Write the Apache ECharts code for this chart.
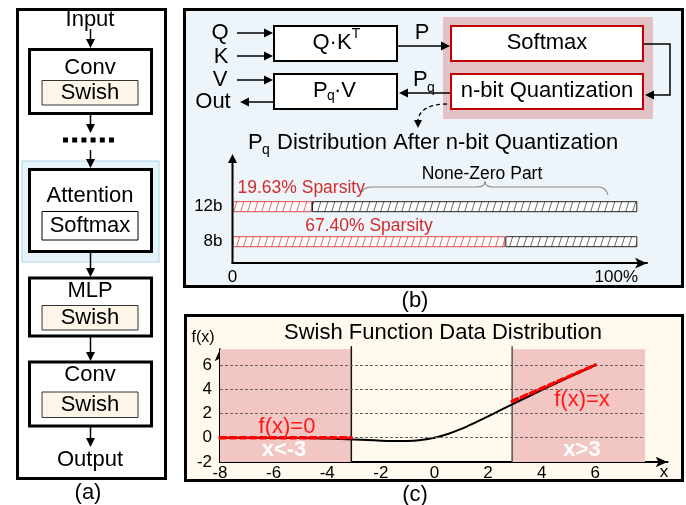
<!DOCTYPE html>
<html><head><meta charset="utf-8">
<script src="https://cdn.jsdelivr.net/npm/echarts@6/dist/echarts.min.js"></script>
<style>html,body{margin:0;padding:0;background:#fff}#c{width:686px;height:505px}</style>
</head><body><div id="c"></div>
<script>
// ---- data (b): Pq distribution after n-bit quantization ----
const barCategories = ['8b', '12b'];
const sparsity = [67.40, 19.63];            // % zero part
const nonZero = [32.60, 80.37];             // % non-zero part
const barTicks = [0, 100];
// ---- data (c): Swish function ----
const swishX = [-8, -7, -6, -5, -4, -3.5, -3, -2.5, -2, -1.5, -1, -0.5, 0, 0.5, 1, 1.5, 2, 2.5, 3, 3.5, 4, 4.5, 5, 5.5, 6];
const swishY = [-0.003, -0.006, -0.015, -0.03, -0.07, -0.1, -0.14, -0.19, -0.24, -0.27, -0.27, -0.19, 0, 0.31, 0.73, 1.23, 1.76, 2.31, 2.86, 3.4, 3.93, 4.45, 4.97, 5.48, 5.99];
const zeroApproxX = [-8, -3.1];
const zeroApproxY = [0, 0];
const linApproxX = [2.9, 6];
const linApproxY = [3.0, 6];
const swishXTicks = [-8, -6, -4, -2, 0, 2, 4, 6];
const swishYTicks = [-2, 0, 2, 4, 6];
const gridLevels = [0, 2, 4, 6];
const regionLeft = [-8, -3.1];
const regionRight = [2.9, 7.86];
const regionBottom = -2;
const regionTop = 7.55;

const F = "'Liberation Sans', Arial, sans-serif";
const els = [];
function rect(x, y, w, h, style, z) { els.push({ type: 'rect', z: z == null ? 5 : z, shape: { x, y, width: w, height: h }, style }); }
function text(x, y, t, size, color, opt) {
  els.push({ type: 'text', z: 20, x, y, style: Object.assign({ text: t, fontSize: size, fontFamily: F, fill: color || '#000', align: 'center', verticalAlign: 'middle' }, opt || {}) });
}
function line(x1, y1, x2, y2, color, w, dash) { els.push({ type: 'line', z: 10, shape: { x1, y1, x2, y2 }, style: { stroke: color, lineWidth: w, lineDash: dash || null } }); }
function head(x, y, dx, dy, color, len, hw) {
  const bx = x - dx * len, by = y - dy * len, px = -dy, py = dx;
  els.push({ type: 'polygon', z: 11, shape: { points: [[x, y], [bx + px * hw, by + py * hw], [bx - px * hw, by - py * hw]] }, style: { fill: color } });
}
function arrow(x1, y1, x2, y2, color, w) {
  const L = Math.hypot(x2 - x1, y2 - y1), dx = (x2 - x1) / L, dy = (y2 - y1) / L;
  line(x1, y1, x2 - dx * 6, y2 - dy * 6, color || '#000', w || 1.5);
  head(x2, y2, dx, dy, color || '#000', 9, 4.5);
}
function quad(x1, y1, cx, cy, x2, y2, color, w, dash) {
  els.push({ type: 'bezierCurve', z: 10, shape: { x1, y1, x2, y2, cpx1: cx, cpy1: cy }, style: { stroke: color, lineWidth: w, fill: null, lineDash: dash || null } });
}

// ===== panel (a) =====
rect(17.5, 9.5, 148, 469, { fill: '#fff', stroke: '#000', lineWidth: 3 }, 0);
rect(22, 161, 137, 101, { fill: '#e8f3f9', stroke: '#a9d6ea', lineWidth: 1 }, 1);
const blk = { fill: '#fff', stroke: '#000', lineWidth: 3 };
const sw = { fill: '#fdf6e8', stroke: '#333', lineWidth: 1 };
rect(29.5, 49.5, 122, 64, blk); rect(42, 80.5, 96, 24.5, sw);
rect(29.5, 169.5, 122, 82, blk); rect(42, 211.5, 96, 28.5, { fill: '#fff', stroke: '#000', lineWidth: 1 });
rect(29.5, 278, 122, 58, blk); rect(42, 305.5, 96, 24.5, sw);
rect(29.5, 362, 122, 64, blk); rect(42, 392, 96, 25.5, sw);
text(90, 20, 'Input', 22); text(90, 68, 'Conv', 22); text(90, 93, 'Swish', 22);
text(90, 195.5, 'Attention', 22); text(90, 225.5, 'Softmax', 22);
text(90, 290.5, 'MLP', 22); text(90, 318, 'Swish', 22);
text(90, 375, 'Conv', 22); text(90, 405, 'Swish', 22);
text(90, 460, 'Output', 22);
line(63, 140, 118, 140, '#000', 5, [5, 4.2]);
arrow(90.5, 29, 90.5, 48); arrow(90.5, 115, 90.5, 133); arrow(90.5, 150, 90.5, 168);
arrow(90.5, 253, 90.5, 277); arrow(90.5, 337, 90.5, 361); arrow(90.5, 427, 90.5, 447);
text(88, 493, '(a)', 22);

// ===== panel (b) =====
rect(184.5, 9.5, 498, 277, { fill: '#edf4fa', stroke: '#000', lineWidth: 3 }, 0);
rect(443, 17, 210, 102, { fill: '#e3c2c6' }, 1);
rect(274, 26, 123, 35, { fill: '#fff', stroke: '#000', lineWidth: 2 });
rect(274, 74, 123, 35, { fill: '#fff', stroke: '#000', lineWidth: 2 });
rect(451, 26, 192, 35, { fill: '#fff', stroke: '#c00000', lineWidth: 2 });
rect(451, 74, 192, 35, { fill: '#fff', stroke: '#c00000', lineWidth: 2 });
text(220, 33, 'Q', 22); text(221, 57, 'K', 22); text(220, 80, 'V', 22); text(213, 102, 'Out', 22);
text(332, 43, 'Q·K', 22); text(356, 34, 'T', 14);
text(313, 91, 'P', 22, '#000', { align: 'left' }); text(327, 96, 'q', 14, '#000', { align: 'left' }); text(334, 91, '·V', 22, '#000', { align: 'left' });
text(422, 33, 'P', 22);
text(413, 80, 'P', 22, '#000', { align: 'left' }); text(427, 88, 'q', 14, '#000', { align: 'left' });
text(547, 43, 'Softmax', 22); text(547, 91, 'n-bit Quantization', 22);
arrow(237, 33, 273, 33); arrow(237, 56, 273, 56); arrow(237, 80, 273, 80); arrow(273, 102, 240, 102);
arrow(398, 46, 450, 46); arrow(450, 93, 399, 93);
els.push({ type: 'polyline', z: 10, shape: { points: [[644, 44], [670, 44], [670, 95], [652, 95]] }, style: { stroke: '#000', lineWidth: 1.5, fill: null } });
head(645, 95, -1, 0, '#000', 9, 4.5);
els.push({ type: 'bezierCurve', z: 10, shape: { x1: 447, y1: 104, x2: 418, y2: 120, cpx1: 428, cpy1: 104, cpx2: 419, cpy2: 111 }, style: { stroke: '#000', lineWidth: 1.3, fill: null, lineDash: [4, 3] } });
head(418, 128, 0, 1, '#000', 8, 4);
text(248, 142.5, 'P', 22, '#000', { align: 'left' }); text(262, 150, 'q', 14, '#000', { align: 'left' });
text(277, 142.5, 'Distribution After n-bit Quantization', 22, '#000', { align: 'left' });
arrow(232.5, 264, 232.5, 154, '#000', 2);
text(482, 174, 'None-Zero Part', 17.5);
const br = '#8a8a8a';
quad(362, 192, 364, 187, 372, 187, br, 1.2); line(372, 187, 477, 187, br, 1.2);
quad(477, 187, 485, 187, 485, 181.5, br, 1.2); quad(485, 181.5, 485, 187, 493, 187, br, 1.2);
line(493, 187, 598, 187, br, 1.2); quad(598, 187, 606, 187, 608, 195, br, 1.2);
text(415, 301, '(b)', 22);

// ===== panel (c) =====
rect(185.5, 315.5, 497, 165, { fill: '#fff9ee', stroke: '#000', lineWidth: 3 }, 0);
text(443, 333, 'Swish Function Data Distribution', 22);
text(203, 338, 'f(x)', 16); text(664, 472, 'x', 17);
text(287, 427, 'f(x)=0', 22, '#ff1a1a');
text(284, 450, 'x<-3', 22, '#fff', { fontWeight: 'bold' });
text(582, 400, 'f(x)=x', 22, '#ff1a1a');
text(582, 450, 'x>3', 22, '#fff', { fontWeight: 'bold' });
text(415, 495, '(c)', 22);

function hatch(stroke, bg) {
  const w = 7, h = 22, c = document.createElement('canvas'); c.width = w; c.height = h;
  const g = c.getContext('2d'); g.fillStyle = bg; g.fillRect(0, 0, w, h);
  g.strokeStyle = stroke; g.lineWidth = 1; g.beginPath();
  for (const o of [-w, 0, w]) { g.moveTo(o, h); g.lineTo(o + w, 0); }
  g.stroke(); return c;
}
const redHatch = hatch('#e36a6a', '#ffffff');
const blkHatch = hatch('#6a6a6a', '#ffffff');

const chart = echarts.init(document.getElementById('c'), null, { renderer: 'canvas' });
const pairs = (xs, ys) => xs.map((x, i) => [x, ys[i]]);
const vline = (x, color) => ({ type: 'line', xAxisIndex: 1, yAxisIndex: 1, z: 3, symbol: 'none', silent: true, clip: false,
  data: [[x, regionBottom], [x, regionTop]], lineStyle: { color, width: 1.5 } });
chart.setOption({
  animation: false,
  backgroundColor: '#fff',
  textStyle: { fontFamily: F },
  graphic: { elements: els },
  grid: [
    { left: 232.5, top: 189.2, width: 414.5, height: 70, outerBoundsMode: 'none', containLabel: false },
    { left: 220, top: 349.2, width: 447.6, height: 112.8, outerBoundsMode: 'none', containLabel: false }
  ],
  xAxis: [
    { gridIndex: 0, type: 'value', min: 0, max: 102.4, interval: 100, offset: 4,
      axisLine: { show: true, symbol: ['none', 'arrow'], symbolSize: [8, 12], lineStyle: { color: '#000', width: 2 } },
      axisTick: { show: false }, splitLine: { show: false },
      axisLabel: { margin: 6, fontSize: 17, color: '#000', fontFamily: F,
        formatter: v => v === barTicks[0] ? String(v) : (v === barTicks[1] ? '{r|' + v + '%}' : ''),
        rich: { r: { fontSize: 17, color: '#000', fontFamily: F, padding: [0, 42, 0, 0] } } } },
    { gridIndex: 1, type: 'value', min: -8, max: 8.7, interval: 2,
      axisLine: { show: true, onZero: false, symbol: ['none', 'arrow'], symbolSize: [8, 12], lineStyle: { color: '#000', width: 2 } },
      axisTick: { show: false }, splitLine: { show: false },
      axisLabel: { margin: 3, fontSize: 17, color: '#000', fontFamily: F, formatter: v => swishXTicks.includes(v) ? String(v) : '' } }
  ],
  yAxis: [
    { gridIndex: 0, type: 'category', data: barCategories, axisLine: { show: false }, axisTick: { show: false },
      axisLabel: { margin: 10, fontSize: 17, color: '#000', fontFamily: F } },
    { gridIndex: 1, type: 'value', min: -2, max: 7.3, interval: 2,
      axisLine: { show: true, onZero: false, symbol: ['none', 'arrow'], symbolSize: [8, 12], lineStyle: { color: '#000', width: 2 } },
      axisTick: { show: false }, splitLine: { show: false },
      axisLabel: { margin: 8, fontSize: 17, color: '#000', fontFamily: F, formatter: v => swishYTicks.includes(v) ? String(v) : '' } }
  ],
  series: [
    { name: 'Sparsity', type: 'bar', xAxisIndex: 0, yAxisIndex: 0, stack: 'p', barWidth: 11, z: 3,
      itemStyle: { color: { image: redHatch, repeat: 'repeat' }, borderColor: '#e04848', borderWidth: 1 },
      label: { show: true, color: '#d42a2a', fontSize: 17.5, fontFamily: F, formatter: p => p.value.toFixed(2) + '% Sparsity' },
      data: sparsity.map((v, i) => i === 0
        ? { value: v, label: { position: 'top', distance: 1.5 } }
        : { value: v, label: { position: [5, -4.5], align: 'left', verticalAlign: 'bottom' } }) },
    { name: 'Non-zero', type: 'bar', xAxisIndex: 0, yAxisIndex: 0, stack: 'p', barWidth: 11, z: 3,
      itemStyle: { color: { image: blkHatch, repeat: 'repeat' }, borderColor: '#222', borderWidth: 1 },
      data: nonZero },
    { name: 'bg', type: 'line', xAxisIndex: 1, yAxisIndex: 1, z: 1, clip: false, silent: true, symbol: 'none',
      data: pairs(swishX, swishY), lineStyle: { opacity: 0 },
      markArea: { silent: true, itemStyle: { color: '#f2c6c2' },
        data: [[{ coord: [regionLeft[0], regionBottom] }, { coord: [regionLeft[1], regionTop] }],
               [{ coord: [regionRight[0], regionBottom] }, { coord: [regionRight[1], regionTop] }]] },
      markLine: { silent: true, symbol: ['none', 'none'], label: { show: false }, lineStyle: { color: '#666', width: 1, type: [3, 2] },
        data: gridLevels.map(y => [{ coord: [-8, y] }, { coord: [regionRight[1], y] }]) } },
    vline(regionLeft[1], '#111'),
    vline(regionRight[0], '#555'),
    { name: 'Swish', type: 'line', xAxisIndex: 1, yAxisIndex: 1, z: 4, symbol: 'none', smooth: 0.3,
      data: pairs(swishX, swishY), lineStyle: { color: '#000', width: 2 } },
    { name: 'f(x)=0', type: 'line', xAxisIndex: 1, yAxisIndex: 1, z: 5, symbol: 'none',
      data: pairs(zeroApproxX, zeroApproxY), lineStyle: { color: '#ff0000', width: 3.5, type: [6, 4], cap: 'round' } },
    { name: 'f(x)=x', type: 'line', xAxisIndex: 1, yAxisIndex: 1, z: 5, symbol: 'none',
      data: pairs(linApproxX, linApproxY), lineStyle: { color: '#ff0000', width: 3.5, type: [6, 4], cap: 'round' } }
  ]
});
</script></body></html>
